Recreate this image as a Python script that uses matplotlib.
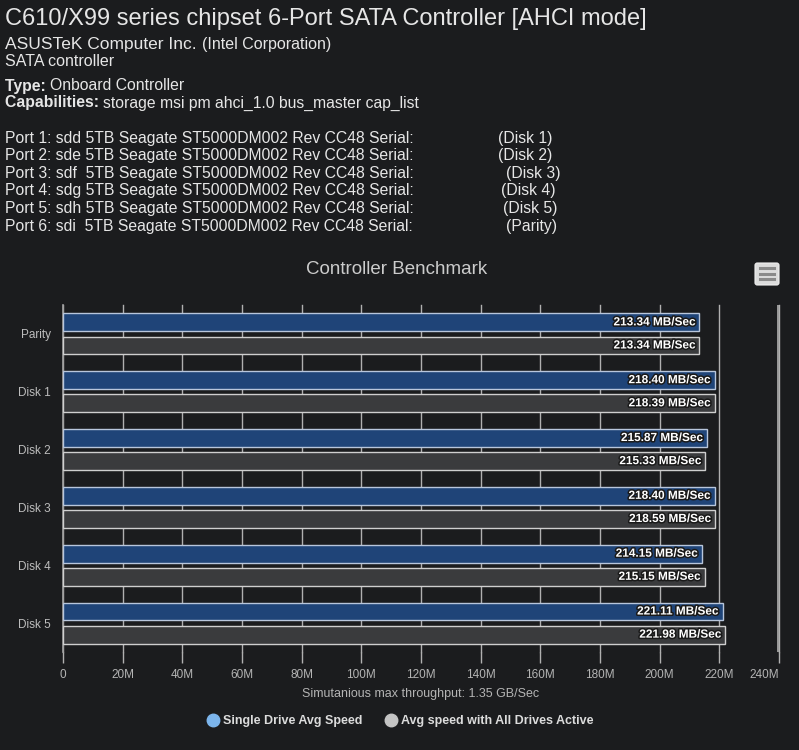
import matplotlib
matplotlib.use("Agg")
import matplotlib.pyplot as plt
import matplotlib.patheffects as pe
from matplotlib.patches import FancyBboxPatch
from matplotlib.lines import Line2D
import numpy as np

# chart data
disks = ["Parity", "Disk 1", "Disk 2", "Disk 3", "Disk 4", "Disk 5"]
single_speed = [213.34, 218.40, 215.87, 218.40, 214.15, 221.11]
all_active_speed = [213.34, 218.39, 215.33, 218.59, 215.15, 221.98]
x_ticks = [0, 20, 40, 60, 80, 100, 120, 140, 160, 180, 200, 220, 240]
x_tick_labels = ["0", "20M", "40M", "60M", "80M", "100M", "120M", "140M",
                 "160M", "180M", "200M", "220M", "240M"]

# header text
ports = ["sdd", "sde", "sdf ", "sdg", "sdh", "sdi "]
port_disks = ["(Disk 1)", "(Disk 2)", "(Disk 3)", "(Disk 4)", "(Disk 5)", "(Parity)"]

BG = "#1b1c1e"
HEAD = "#e6e6e6"
sans = ["Liberation Sans", "DejaVu Sans"]

W, H = 799, 750
fig = plt.figure(figsize=(W / 100, H / 100), dpi=100, facecolor=BG)
renderer = fig.canvas.get_renderer()


def px(x, y):
    # pixel position (from top left) to figure fraction
    return x / W, 1 - y / H


def line_text(x, y, parts):
    # parts: list of (text, weight, size) written one after another
    for txt, weight, sz in parts:
        t = fig.text(*px(x, y), txt, family=sans, fontsize=sz, weight=weight,
                     color=HEAD, va="center")
        x += t.get_window_extent(renderer).width


fig.text(*px(5, 19), "C610/X99 series chipset 6-Port SATA Controller [AHCI mode]",
         family=sans, fontsize=17, color=HEAD, va="center")
line_text(5, 44, [("ASUSTeK Computer Inc. ", "normal", 12.5), ("(Intel Corporation)", "normal", 11.5)])
line_text(5, 62, [("SATA controller", "normal", 11.5)])
line_text(5, 86, [("Type: ", "bold", 11.3), ("Onboard Controller", "normal", 11.3)])
line_text(5, 103, [("Capabilities: ", "bold", 11.3),
                   ("storage msi pm ahci_1.0 bus_master cap_list", "normal", 11.3)])

disk_x = [498, 498, 506, 501, 503, 506]
for i, (p, d) in enumerate(zip(ports, port_disks)):
    y = 138 + i * 17.6
    fig.text(*px(5, y), f"Port {i + 1}: {p} 5TB Seagate ST5000DM002 Rev CC48 Serial:",
             family=sans, fontsize=11.3, color=HEAD, va="center")
    fig.text(*px(disk_x[i], y), d, family=sans, fontsize=11.3, color=HEAD, va="center")

# chart
ax = fig.add_axes([63 / W, 1 - 652 / H, 716 / W, 347 / H])
ax.set_facecolor(BG)

y = np.arange(len(disks))
bh = 0.31
ax.barh(y - 0.2, single_speed, height=bh, color="#1f4478", edgecolor="#b8c6dc",
        linewidth=1.0, zorder=3)
ax.barh(y + 0.2, all_active_speed, height=bh, color="#3a3b3d", edgecolor="#cfcfcf",
        linewidth=1.0, zorder=3)

stroke = [pe.withStroke(linewidth=2.2, foreground="#1a1a1a")]
for yy, v in zip(y, single_speed):
    ax.annotate(f"{v:.2f} MB/Sec", (v, yy - 0.2), xytext=(-3, 0), textcoords="offset points",
                ha="right", va="center", fontsize=8.5, weight="bold", family=sans,
                color="white", path_effects=stroke, zorder=4)
for yy, v in zip(y, all_active_speed):
    ax.annotate(f"{v:.2f} MB/Sec", (v, yy + 0.2), xytext=(-3, 0), textcoords="offset points",
                ha="right", va="center", fontsize=8.5, weight="bold", family=sans,
                color="white", path_effects=stroke, zorder=4)

ax.set_xlim(0, 240)
ax.set_ylim(len(disks) - 0.5, -0.5)
ax.set_xticks(x_ticks)
ax.set_xticklabels(x_tick_labels)
ax.set_yticks(y)
ax.set_yticklabels(disks)
ax.grid(axis="x", color="#b0b0b0", linewidth=1.0, zorder=1)
for gl in ax.get_xgridlines():
    gl.set_clip_on(False)
ax.axvline(239.7, color="#b0b0b0", linewidth=1.2, zorder=1)
for s in ["top", "right", "bottom"]:
    ax.spines[s].set_visible(False)
ax.spines["left"].set_color("#a0a0a0")
ax.spines["left"].set_linewidth(1.2)
ax.tick_params(axis="x", length=8, width=1.0, color="#b0b0b0", labelcolor="#b4b4b4",
               labelsize=8.5, pad=4)
ax.tick_params(axis="y", length=0, labelcolor="#bdbdbd", labelsize=8.5, pad=9)
for lbl in ax.get_xticklabels() + ax.get_yticklabels():
    lbl.set_family(sans)
ax.get_xticklabels()[-1].set_ha("right")

ax.set_xlabel("Simutanious max throughput: 1.35 GB/Sec", color="#b4b4b4", fontsize=9,
              family=sans, labelpad=5)

fig.text(*px(397, 270), "Controller Benchmark", family=sans, fontsize=13.5,
         color="#cccccc", ha="center", va="center")

# menu button
bx, by = px(755, 285)
fig.patches.append(FancyBboxPatch((bx, by), 24 / W, 22 / H, boxstyle="round,pad=0,rounding_size=0.003",
                                  transform=fig.transFigure, facecolor="#dcdcdc",
                                  edgecolor="#f0f0f0", linewidth=0.8))
for ly in (268, 273.5, 279):
    fig.add_artist(Line2D([760 / W, 774 / W], [1 - ly / H, 1 - ly / H], color="#8a8a8a",
                          linewidth=2.2, transform=fig.transFigure))

handles = [
    Line2D([], [], marker="o", linestyle="", markersize=9, markerfacecolor="#7cb5ec",
           markeredgecolor="#7cb5ec"),
    Line2D([], [], marker="o", linestyle="", markersize=9, markerfacecolor="#c4c4c4",
           markeredgecolor="#c4c4c4"),
]
leg = fig.legend(handles, ["Single Drive Avg Speed", "Avg speed with All Drives Active"],
                 loc="center", bbox_to_anchor=px(400, 721), ncol=2, frameon=False,
                 handletextpad=0.3, columnspacing=1.8, handlelength=1.0,
                 prop={"family": sans, "weight": "bold", "size": 9})
for t in leg.get_texts():
    t.set_color("#dcdcdc")

fig.savefig("out.png", dpi=100, facecolor=BG)
